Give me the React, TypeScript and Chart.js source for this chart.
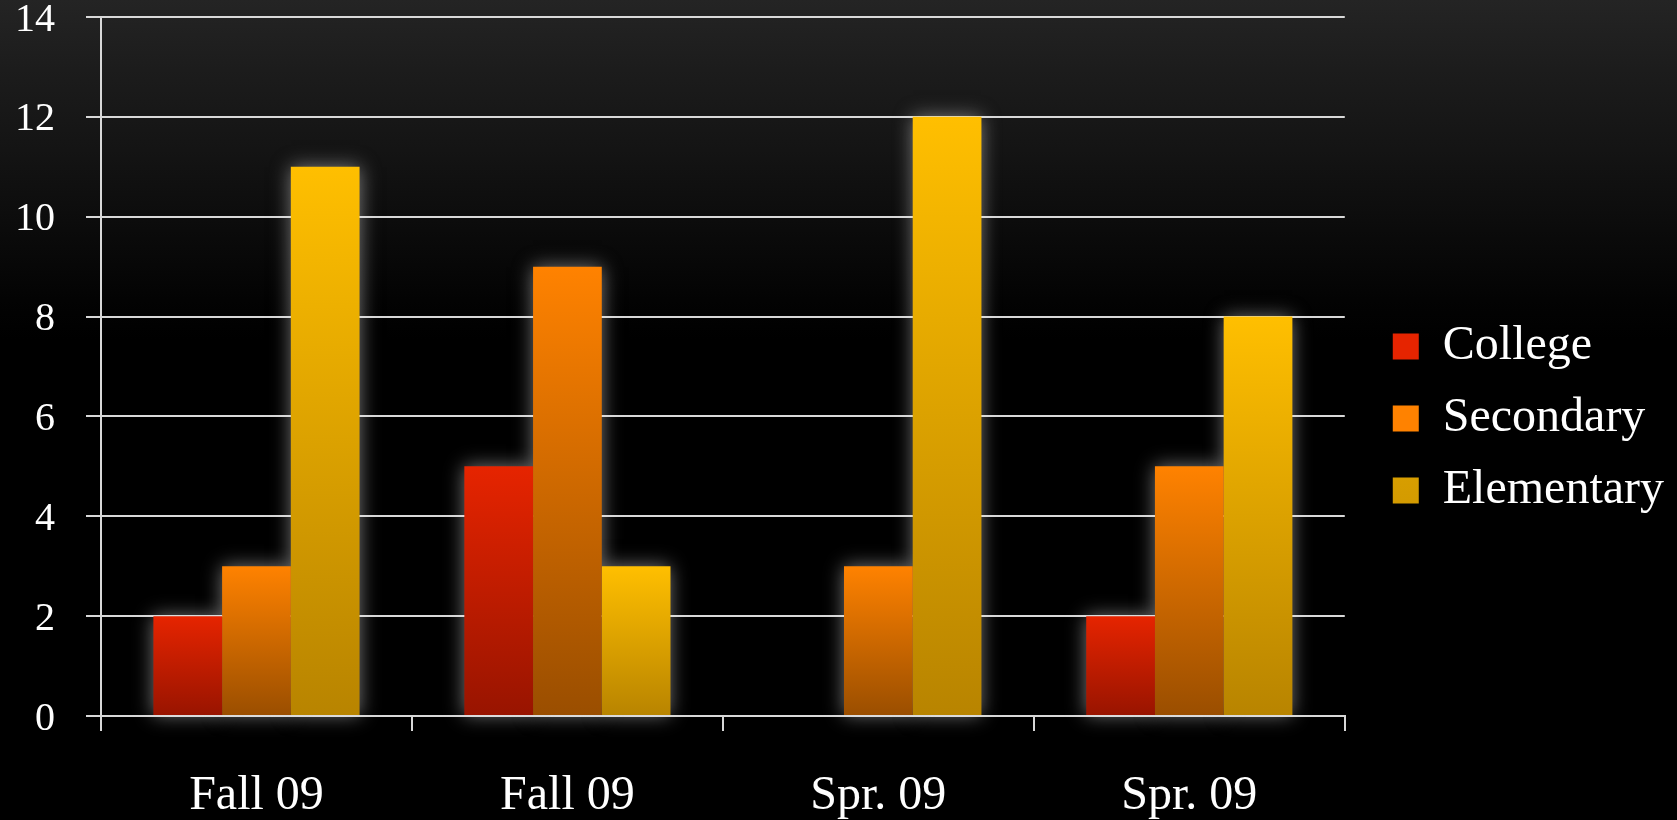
import React, { useEffect, useRef } from "react";
import { Chart, registerables } from "chart.js";

Chart.register(...registerables);

const categories = ["Fall 09", "Fall 09", "Spr. 09", "Spr. 09"];
const seriesNames = ["College", "Secondary", "Elementary"];
const collegeValues = [2, 5, 0, 2];
const secondaryValues = [3, 9, 3, 5];
const elementaryValues = [11, 3, 12, 8];
const yTicks = [0, 2, 4, 6, 8, 10, 12, 14];

const topColors = ["#e62400", "#ff8200", "#ffbf00"];
const bottomColors = ["#981400", "#9a4e00", "#b88400"];
const legendColors = ["#d01c00", "#e06c00", "#eeb000"];

const FONT = "'Liberation Serif', 'DejaVu Serif', serif";
const AXIS = "#d8d8d8";
const LEGEND_GAP = 24;

function makeFill(i: number) {
  return (c: any) => {
    if (c.type !== "data") return legendColors[i];
    const chart = c.chart;
    const area = chart.chartArea;
    if (!area) return topColors[i];
    const y = chart.scales.y;
    const yTop = y.getPixelForValue(c.raw);
    const yBot = y.getPixelForValue(0);
    if (!(yBot - yTop > 1)) return topColors[i];
    const g = chart.ctx.createLinearGradient(0, yTop, 0, yBot);
    g.addColorStop(0, topColors[i]);
    g.addColorStop(1, bottomColors[i]);
    return g;
  };
}

const zeroPadding = (s: any) => {
  s.paddingLeft = 0;
  s.paddingRight = 0;
  s.paddingTop = 0;
  s.paddingBottom = 0;
};

const glowPlugin = {
  id: "glow",
  afterLayout(chart: any) {
    const lg = chart.legend;
    if (lg) {
      lg.left += LEGEND_GAP;
      lg.right += LEGEND_GAP;
    }
  },
  beforeDatasetsDraw(chart: any) {
    const ctx = chart.ctx;
    ctx.save();
    const off = 5000;
    ctx.shadowColor = "rgba(235,235,235,0.5)";
    ctx.shadowBlur = 18;
    ctx.shadowOffsetX = off;
    ctx.fillStyle = "#000";
    chart.data.datasets.forEach((_: any, di: number) => {
      const meta = chart.getDatasetMeta(di);
      meta.data.forEach((el: any) => {
        const { x, y, base, width } = el.getProps(["x", "y", "base", "width"], true);
        const h = base - y;
        if (h < 1) return;
        ctx.fillRect(x - width / 2 - off, y, width, h);
      });
    });
    ctx.restore();
  },
};

export default function App() {
  const ref = useRef<HTMLCanvasElement | null>(null);
  useEffect(() => {
    if (!ref.current) return;
    const values = [collegeValues, secondaryValues, elementaryValues];
    const chart = new Chart(ref.current, {
      type: "bar",
      data: {
        labels: categories,
        datasets: seriesNames.map((name, i) => ({
          label: name,
          data: values[i],
          backgroundColor: makeFill(i),
          borderWidth: 0,
          barPercentage: 1,
          categoryPercentage: 0.663,
        })),
      },
      options: {
        responsive: false,
        animation: false,
        devicePixelRatio: 1,
        layout: { padding: { top: 17, left: 15, right: 27, bottom: 0 } },
        plugins: {
          tooltip: { enabled: false },
          legend: {
            position: "right",
            align: "center",
            labels: {
              color: "#ffffff",
              font: { family: FONT, size: 48, lineHeight: 1 },
              boxWidth: 26,
              boxHeight: 26,
              padding: 24,
            },
          },
        },
        scales: {
          x: {
            offset: true,
            afterFit: (s: any) => {
              zeroPadding(s);
              s.height = 104;
            },
            grid: {
              offset: true,
              drawOnChartArea: false,
              drawTicks: true,
              tickLength: 15,
              color: AXIS,
              lineWidth: 2,
            },
            border: { display: true, color: AXIS, width: 2 },
            ticks: {
              color: "#ffffff",
              font: { family: FONT, size: 48, lineHeight: 1 },
              padding: 41,
              maxRotation: 0,
            },
          },
          y: {
            min: 0,
            max: 14,
            afterFit: (s: any) => {
              zeroPadding(s);
              s.width = 86;
            },
            afterBuildTicks: (s: any) => {
              s.ticks = yTicks.map((v) => ({ value: v }));
            },
            grid: {
              color: AXIS,
              lineWidth: 2,
              drawTicks: true,
              tickLength: 15,
            },
            border: { display: true, color: AXIS, width: 2 },
            ticks: {
              color: "#ffffff",
              font: { family: FONT, size: 40, lineHeight: 0.8 },
              padding: 31,
              labelOffset: 3,
            },
          },
        },
      },
      plugins: [glowPlugin],
    } as any);
    return () => chart.destroy();
  }, []);

  return (
    <div
      style={{
        position: "fixed",
        left: 0,
        top: 0,
        width: 1677,
        height: 820,
        background:
          "linear-gradient(to bottom, #242424 0px, #1c1c1c 70px, #141414 150px, #0b0b0b 230px, #030303 300px, #000000 340px)",
      }}
    >
      <canvas ref={ref} width={1677} height={820} style={{ display: "block" }} />
    </div>
  );
}
